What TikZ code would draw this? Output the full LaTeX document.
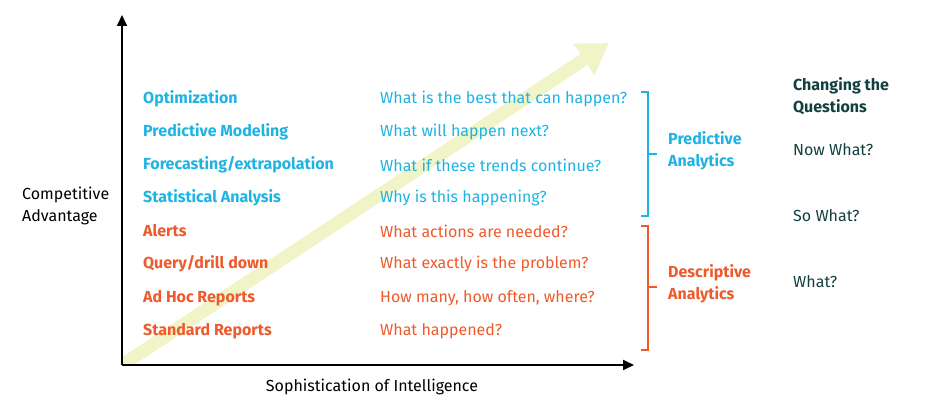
\documentclass[tikz,border=0pt]{standalone}
\usepackage{fontspec}
\setmainfont{Fira Sans}
\usepackage{tikz}
\usetikzlibrary{arrows.meta,positioning}
\definecolor{predblue}{HTML}{1FB3E3}
\definecolor{descorange}{HTML}{EE5A2B}
\definecolor{darkteal}{HTML}{123F3F}
\definecolor{paleyellow}{HTML}{F0F4C6}
\tikzset{
  axis/.style={-{Triangle[length=11pt,width=10pt]}, line width=1.8pt},
  bigarrow/.style={-{Triangle[length=30pt,width=36pt]}, line width=13pt, draw=paleyellow},
  level/.style={anchor=west, inner sep=0pt, font=\fontsize{16}{18}\selectfont\bfseries},
  question/.style={anchor=west, inner sep=0pt, font=\fontsize{16}{18}\selectfont},
  group/.style={anchor=west, inner sep=0pt, align=left, font=\fontsize{16}{21.5}\selectfont\bfseries},
  change/.style={anchor=west, inner sep=0pt, align=left, text=darkteal, font=\fontsize{16}{21.5}\selectfont},
  bracket/.style={line width=1.5pt}
}
\begin{document}
\begin{tikzpicture}[x=1pt,y=-1pt]
\useasboundingbox (0,0) rectangle (932,412);
% axes corner and ends
\coordinate (origin) at (122,365);
\coordinate (ytop) at (122,15);
\coordinate (xend) at (634,365);
\coordinate (growstart) at (107,375);
\coordinate (growtip) at (609,43);
\begin{scope}
\clip (origin) rectangle (932,0);
\draw[bigarrow] (growstart) -- (growtip);
\end{scope}
\draw[axis] (origin) -- (ytop);
\draw[axis] (origin) -- (xend);
\node[anchor=west, align=left, inner sep=0pt, font=\fontsize{16}{21.5}\selectfont] (yaxis) at (22,206) {Competitive\\Advantage};
\node[inner sep=0pt, font=\fontsize{16}{18}\selectfont] (xaxis) at (372,387) {Sophistication of Intelligence};
% levels and questions
\node[level, text=predblue] (opt) at (143,99) {Optimization};
\node[level, text=predblue] (model) at (143,132) {Predictive Modeling};
\node[level, text=predblue] (forecast) at (143,165) {Forecasting/extrapolation};
\node[level, text=predblue] (stat) at (143,198) {Statistical Analysis};
\node[level, text=descorange] (alerts) at (143,231) {Alerts};
\node[level, text=descorange] (query) at (143,264) {Query/drill down};
\node[level, text=descorange] (adhoc) at (143,298) {Ad Hoc Reports};
\node[level, text=descorange] (std) at (143,331) {Standard Reports};
\node[question, text=predblue] (qopt) at (380,99) {What is the best that can happen?};
\node[question, text=predblue] (qmodel) at (380,132) {What will happen next?};
\node[question, text=predblue] (qforecast) at (380,165) {What if these trends continue?};
\node[question, text=predblue] (qstat) at (380,198) {Why is this happening?};
\node[question, text=descorange] (qalerts) at (380,231) {What actions are needed?};
\node[question, text=descorange] (qquery) at (380,264) {What exactly is the problem?};
\node[question, text=descorange] (qadhoc) at (380,298) {How many, how often, where?};
\node[question, text=descorange] (qstd) at (380,331) {What happened?};
% brackets
\coordinate (pb1) at (641,92);
\coordinate (pb2) at (648,92);
\coordinate (pb3) at (648,216);
\coordinate (pb4) at (641,216);
\coordinate (pm1) at (648,154);
\coordinate (pm2) at (657,154);
\draw[bracket, predblue] (pb1) -- (pb2) -- (pb3) -- (pb4);
\draw[bracket, predblue] (pm1) -- (pm2);
\coordinate (db1) at (641,226);
\coordinate (db2) at (648,226);
\coordinate (db3) at (648,350);
\coordinate (db4) at (641,350);
\coordinate (dm1) at (648,287);
\coordinate (dm2) at (657,287);
\draw[bracket, descorange] (db1) -- (db2) -- (db3) -- (db4);
\draw[bracket, descorange] (dm1) -- (dm2);
\node[group, text=predblue] (pred) at (668,151) {Predictive\\Analytics};
\node[group, text=descorange] (desc) at (668,284) {Descriptive\\Analytics};
% changing the questions
\node[change, font=\fontsize{16}{21.5}\selectfont\bfseries] (chg) at (793,96) {Changing the\\Questions};
\node[change] (now) at (793,150) {Now What?};
\node[change] (so) at (793,216) {So What?};
\node[change] (what) at (793,282) {What?};
\end{tikzpicture}
\end{document}
